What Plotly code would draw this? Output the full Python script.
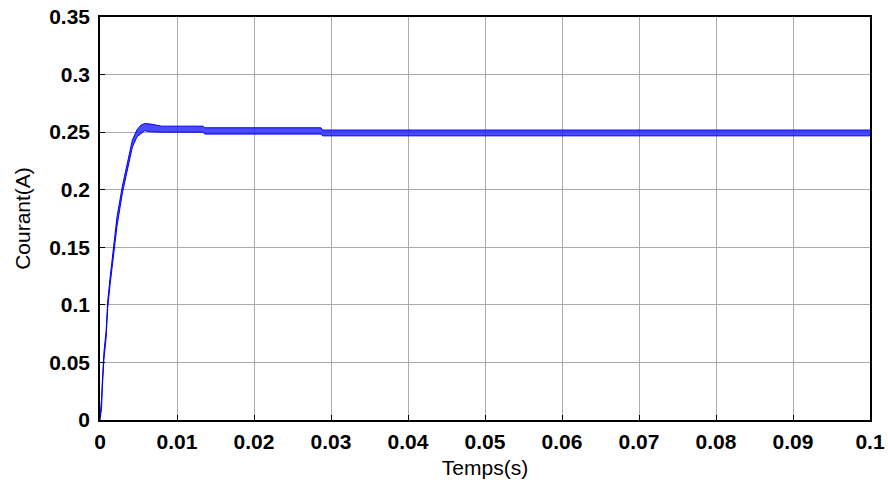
import plotly.graph_objects as go

# Time (s) and current envelope (A)
time_s = [0.0, 0.0002, 0.0003, 0.0005, 0.0008, 0.0010, 0.0013, 0.0018, 0.0022, 0.0029,
          0.0036, 0.0042, 0.0048, 0.0053, 0.0058, 0.0066, 0.0080, 0.0134, 0.0136,
          0.0287, 0.0289, 0.1000]
current_upper = [0.003, 0.018, 0.033, 0.058, 0.078, 0.103, 0.123, 0.153, 0.176, 0.203,
                 0.226, 0.243, 0.252, 0.2560, 0.2575, 0.2570, 0.2552, 0.2552, 0.2538,
                 0.2538, 0.2518, 0.2518]
current_lower = [0.000, 0.010, 0.027, 0.052, 0.072, 0.097, 0.117, 0.147, 0.168, 0.197,
                 0.218, 0.237, 0.246, 0.2490, 0.2512, 0.2503, 0.2500, 0.2500, 0.2483,
                 0.2483, 0.2468, 0.2468]

x_ticks = [0, 0.01, 0.02, 0.03, 0.04, 0.05, 0.06, 0.07, 0.08, 0.09, 0.1]
x_labels = ["0", "0.01", "0.02", "0.03", "0.04", "0.05", "0.06", "0.07", "0.08", "0.09", "0.1"]
y_ticks = [0, 0.05, 0.1, 0.15, 0.2, 0.25, 0.3, 0.35]
y_labels = ["0", "0.05", "0.1", "0.15", "0.2", "0.25", "0.3", "0.35"]

blue = "#0000ff"
fig = go.Figure()
fig.add_trace(go.Scatter(x=time_s, y=current_lower, mode="lines",
                         line=dict(color=blue, width=1), showlegend=False))
fig.add_trace(go.Scatter(x=time_s, y=current_upper, mode="lines",
                         line=dict(color=blue, width=1), fill="tonexty",
                         fillcolor="rgba(30,30,255,0.8)", showlegend=False))

fam = "Liberation Sans, Arial, sans-serif"
tickfont = dict(family=fam, size=21, color="black", weight="bold")
titlefont = dict(family=fam, size=21, color="black")

fig.update_layout(
    width=888, height=491,
    margin=dict(l=100, r=18, t=17, b=71),
    paper_bgcolor="white", plot_bgcolor="white",
    showlegend=False,
)
common = dict(
    tickfont=tickfont,
    showgrid=True, gridcolor="#aaaaaa", gridwidth=1,
    showline=True, linecolor="black", linewidth=1.5, mirror=True,
    ticks="inside", ticklen=5, tickcolor="black",
    zeroline=False, automargin=False,
)
fig.update_xaxes(
    range=[0, 0.1], tickvals=x_ticks, ticktext=x_labels,
    title=dict(text="Temps(s)", font=titlefont, standoff=8),
    ticklabelstandoff=2,
    **common,
)
fig.update_yaxes(
    range=[0, 0.35], tickvals=y_ticks, ticktext=y_labels,
    title=dict(text="Courant(A)", font=titlefont, standoff=13),
    ticklabelstandoff=4,
    **common,
)

fig.write_html(
    "out.html",
    config={"displayModeBar": False},
    post_script="document.body.style.margin='0';document.body.style.overflow='hidden';",
)
